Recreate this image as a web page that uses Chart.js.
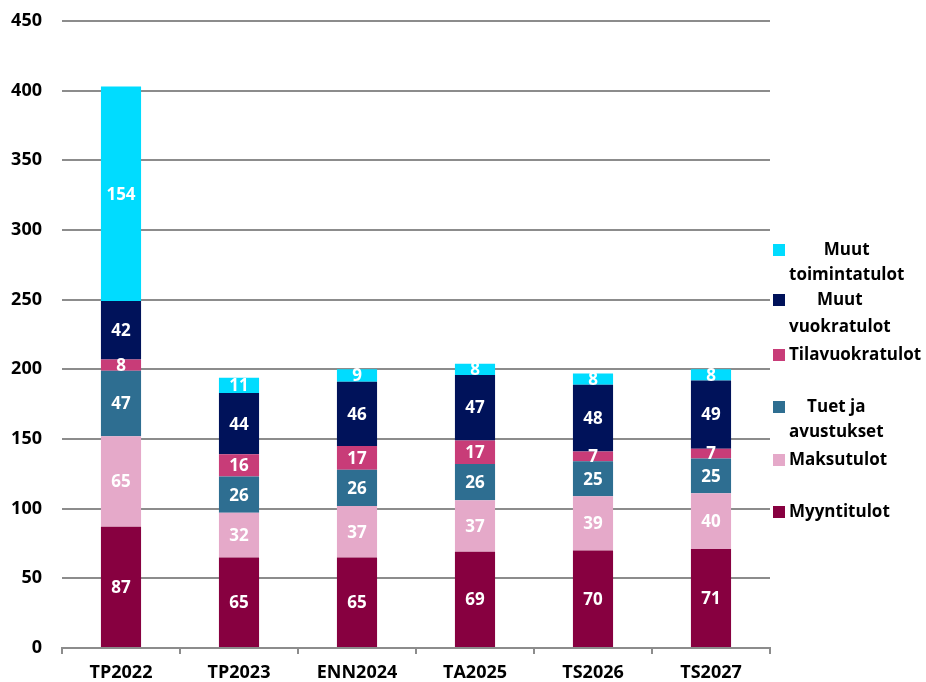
<!DOCTYPE html>
<html><head><meta charset="utf-8">
<script src="https://cdn.jsdelivr.net/npm/chart.js@4/dist/chart.umd.min.js"></script>
<style>html,body{margin:0;padding:0;background:#fff;}#wrap{width:926px;height:682px;}</style>
</head><body><div id="wrap"><canvas id="c" width="926" height="682"></canvas></div>
<script>
const categories = ["TP2022","TP2023","ENN2024","TA2025","TS2026","TS2027"];
const myyntitulot = [87,65,65,69,70,71];
const maksutulot = [65,32,37,37,39,40];
const tuetJaAvustukset = [47,26,26,26,25,25];
const tilavuokratulot = [8,16,17,17,7,7];
const muutVuokratulot = [42,44,46,47,48,49];
const muutToimintatulot = [154,11,9,8,8,8];
const yTicks = [0,50,100,150,200,250,300,350,400,450];

const FONT = "'Open Sans', 'Noto Sans', sans-serif";
const series = [
  {label:["Myyntitulot"], data:myyntitulot, color:"#870040"},
  {label:["Maksutulot"], data:maksutulot, color:"#E5A9C9"},
  {label:["Tuet ja","avustukset"], data:tuetJaAvustukset, color:"#2E6E91"},
  {label:["Tilavuokratulot"], data:tilavuokratulot, color:"#C83C78"},
  {label:["Muut","vuokratulot"], data:muutVuokratulot, color:"#00125A"},
  {label:["Muut","toimintatulot"], data:muutToimintatulot, color:"#00DCFF"}
];

const dataLabels = {
  id:'dataLabels',
  afterDatasetsDraw(chart){
    const ctx = chart.ctx;
    ctx.save();
    ctx.font = "bold 17px " + FONT;
    ctx.fillStyle = "#fff";
    ctx.textAlign = "center";
    ctx.textBaseline = "middle";
    chart.data.datasets.forEach((ds,i)=>{
      chart.getDatasetMeta(i).data.forEach((el,j)=>{
        const p = el.getProps(['x','y','base'],true);
        ctx.fillText(String(ds.data[j]), p.x, (p.y+p.base)/2 + 1);
      });
    });
    ctx.restore();
  }
};

const legendYs = [512,460,[407,432],355,[300,327],[250,275]];
const customLegend = {
  id:'customLegend',
  afterDraw(chart){
    const ctx = chart.ctx;
    ctx.save();
    ctx.font = "bold 17px " + FONT;
    ctx.textBaseline = "middle";
    const markerX = 773;
    const textX = 789;
    series.forEach((s,i)=>{
      const ys = legendYs[i];
      const y0 = Array.isArray(ys) ? ys[0] : ys;
      ctx.fillStyle = s.color;
      ctx.fillRect(markerX, y0-6, 12, 12);
      ctx.fillStyle = "#000";
      if (s.label.length === 1) {
        ctx.textAlign = "left";
        ctx.fillText(s.label[0], textX, y0);
      } else {
        const w = Math.max(...s.label.map(t=>ctx.measureText(t).width));
        ctx.textAlign = "center";
        s.label.forEach((t,k)=>ctx.fillText(t, textX + w/2, ys[k]));
      }
    });
    ctx.restore();
  }
};

new Chart(document.getElementById('c'), {
  type:'bar',
  data:{
    labels:categories,
    datasets:series.map(s=>({label:s.label.join(' '), data:s.data, backgroundColor:s.color, barPercentage:0.34, categoryPercentage:1.0}))
  },
  options:{
    responsive:false,
    animation:false,
    layout:{padding:{left:4,right:156,top:21,bottom:0}},
    plugins:{legend:{display:false}, tooltip:{enabled:false}},
    scales:{
      x:{
        stacked:true,
        afterFit(axis){ axis.height = 34; axis.paddingLeft = 0; axis.paddingRight = 0; },
        grid:{display:true, drawOnChartArea:false, drawTicks:true, tickLength:6, color:"#8c8c8c", lineWidth:2, offset:true},
        border:{display:true, color:"#8c8c8c", width:2},
        ticks:{color:"#000", font:{family:FONT, size:18, weight:'bold'}, padding:8}
      },
      y:{
        stacked:true, min:0, max:450,
        afterBuildTicks(axis){ axis.ticks = yTicks.map(v=>({value:v})); },
        afterFit(axis){ axis.width = 58; axis.paddingTop = 0; axis.paddingBottom = 0; },
        grid:{color:"#8c8c8c", lineWidth:2, drawTicks:false},
        border:{display:false},
        ticks:{color:"#000", font:{family:FONT, size:18, weight:'bold'}, padding:20}
      }
    }
  },
  plugins:[dataLabels, customLegend]
});
</script></body></html>
